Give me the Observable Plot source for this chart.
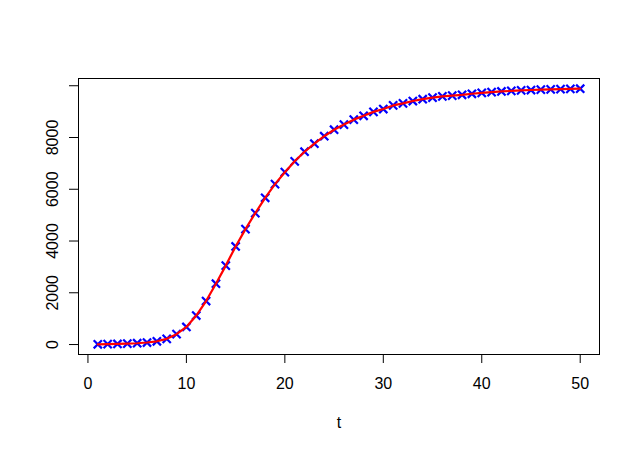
<!DOCTYPE html>
<html>
<head>
<meta charset="utf-8">
<script src="https://cdn.jsdelivr.net/npm/d3@7"></script>
<script src="https://cdn.jsdelivr.net/npm/@observablehq/plot@0.6"></script>
<style>
  html, body { margin: 0; padding: 0; background: white; }
  #chart svg { display: block; }
</style>
</head>
<body>
<div id="chart"></div>
<script>
// Data
const tValues = Array.from({length: 50}, (_, i) => i + 1);
const nValues = [
  10, 15, 22, 33, 50, 78, 125, 220, 400, 680,
  1120, 1680, 2350, 3050, 3790, 4460, 5080, 5670, 6200, 6660,
  7080, 7450, 7760, 8050, 8300, 8500, 8690, 8840, 8990, 9100,
  9240, 9320, 9410, 9480, 9540, 9590, 9620, 9650, 9690, 9725,
  9755, 9780, 9800, 9820, 9835, 9850, 9860, 9870, 9878, 9885
];
const xTicks = [0, 10, 20, 30, 40, 50];
const yTicks = [0, 2000, 4000, 6000, 8000, 10000];
const yTickLabels = [0, 2000, 4000, 6000, 8000];
const xLabel = "t";

const data = tValues.map((t, i) => ({t, n: nValues[i]}));

// R-style 4% axis extension
const [x0, x1] = d3.extent(tValues);
const [y0, y1] = d3.extent(nValues);
const px = (x1 - x0) * 0.04, py = (y1 - y0) * 0.04;

const chart = Plot.plot({
  width: 640,
  height: 452,
  marginLeft: 78,
  marginRight: 41,
  marginTop: 78,
  marginBottom: 98,
  style: {fontFamily: "'Liberation Sans', Arial, sans-serif", fontSize: "16px", background: "white", color: "black"},
  x: {domain: [x0 - px, x1 + px]},
  y: {domain: [y0 - py, y1 + py]},
  marks: [
    Plot.frame({stroke: "black", strokeWidth: 1}),
    Plot.axisX({ticks: xTicks, tickSize: 9, tickPadding: 14, label: null, tickFormat: d3.format("d")}),
    Plot.axisY({ticks: yTicks, tickSize: 9, text: null, label: null}),
    Plot.axisY({ticks: yTickLabels, tickSize: 0, tickPadding: 21, tickRotate: -90, label: null, tickFormat: d3.format("d")}),
    Plot.text([xLabel], {text: d => d, frameAnchor: "bottom", dy: 68, lineAnchor: "middle", fill: "black", fontSize: 16}),
    Plot.dot(data, {x: "t", y: "n", symbol: "times", r: 3.8, stroke: "blue", strokeWidth: 2.2}),
    Plot.line(data, {x: "t", y: "n", stroke: "red", strokeWidth: 2.2})
  ]
});
document.getElementById("chart").appendChild(chart);
</script>
</body>
</html>
